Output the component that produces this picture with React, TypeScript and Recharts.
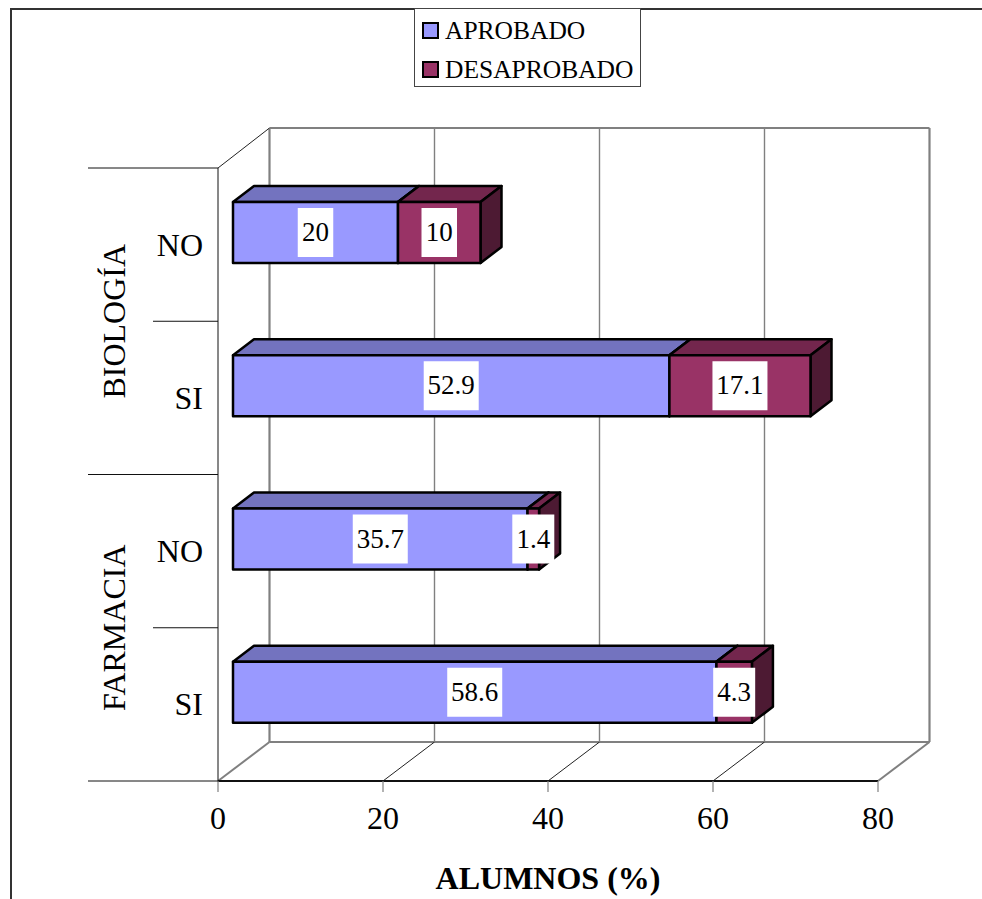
import React from "react";
import { BarChart, Bar, XAxis, YAxis, CartesianGrid, LabelList, Legend } from "recharts";

const categories = ["NO", "SI", "NO", "SI"];
const groups = ["BIOLOGÍA", "", "FARMACIA", ""];
const aprobado = [20, 52.9, 35.7, 58.6];
const desaprobado = [10, 17.1, 1.4, 4.3];
const xTicks = [0, 20, 40, 60, 80];
const seriesNames = ["APROBADO", "DESAPROBADO"];

const data = categories.map((c, i) => ({
  key: i,
  cat: c,
  group: groups[i],
  a: aprobado[i],
  d: desaprobado[i],
}));

const FONT = "'Liberation Serif','Times New Roman',serif";
const W = 982, H = 899;
const PLOT_L = 218, PLOT_R = 878, PLOT_T = 168, PLOT_B = 781;
const WALL_DX = 51.5, WALL_DY = 39;
const WALL_TOP = 128;
const BAR_DX = 15, BAR_DY = -12;
const BAR_DEPTH_X = 21, BAR_DEPTH_Y = 16;
const GREY = "#808080";

const makeShape = (front: string, top: string, side: string) => (p: any) => {
  const x = p.x + BAR_DX, y = p.y + BAR_DY, w = p.width, h = p.height;
  const dx = BAR_DEPTH_X, dy = BAR_DEPTH_Y;
  return (
    <g stroke="#000" strokeWidth={2.5} strokeLinejoin="round">
      <polygon fill={top} points={`${x},${y} ${x + dx},${y - dy} ${x + w + dx},${y - dy} ${x + w},${y}`} />
      <polygon fill={side} points={`${x + w},${y} ${x + w + dx},${y - dy} ${x + w + dx},${y + h - dy} ${x + w},${y + h}`} />
      <rect x={x} y={y} width={w} height={h} fill={front} />
    </g>
  );
};

const valueLabel = (p: any) => {
  const text = String(p.value);
  const tw = text.length === 2 && !text.includes(".") ? 26 : text.length === 3 ? 32.5 : 45.5;
  const cx = p.x + BAR_DX + p.width / 2;
  const cy = p.y + BAR_DY + p.height / 2;
  const bw = tw + 9.5;
  return (
    <g>
      <rect x={cx - bw / 2} y={cy - 24.5} width={bw} height={49} fill="#fff" />
      <text x={cx} y={cy + 8.5} textAnchor="middle" fontFamily={FONT} fontSize={27} fill="#000">{text}</text>
    </g>
  );
};

const gridLine = (p: any) => {
  const x = p.x1;
  const edge = x <= PLOT_L + 1 || x >= PLOT_R - 1;
  const first = x <= PLOT_L + 1;
  return (
    <g key={p.key} fill="none">
      <line x1={x} y1={PLOT_B} x2={x + WALL_DX} y2={PLOT_B - WALL_DY}
        stroke={edge ? GREY : "#222"} strokeWidth={edge ? 2 : 1} />
      <line x1={x + WALL_DX} y1={PLOT_B - WALL_DY} x2={x + WALL_DX} y2={WALL_TOP}
        stroke={GREY} strokeWidth={edge ? 2.2 : 1.4} />
      {first && (
        <g>
          <line x1={x} y1={PLOT_T} x2={x + WALL_DX} y2={WALL_TOP} stroke="#222" strokeWidth={1} />
          <line x1={x + WALL_DX} y1={WALL_TOP} x2={PLOT_R + WALL_DX} y2={WALL_TOP} stroke={GREY} strokeWidth={2.2} />
          <line x1={x + WALL_DX} y1={PLOT_B - WALL_DY} x2={PLOT_R + WALL_DX} y2={PLOT_B - WALL_DY} stroke={GREY} strokeWidth={2.2} />
        </g>
      )}
    </g>
  );
};

const catTick = (p: any) => {
  const i = p.index;
  const band = (PLOT_B - PLOT_T) / categories.length;
  const top = p.y - band / 2;
  const bottom = p.y + band / 2;
  const major = i % 2 === 0;
  const row = data[i];
  return (
    <g>
      <line x1={major ? 88 : 153} y1={top} x2={PLOT_L} y2={top} stroke="#111" strokeWidth={1} />
      {i === categories.length - 1 && <line x1={88} y1={bottom} x2={PLOT_L} y2={bottom} stroke="#111" strokeWidth={1} />}
      <text x={203} y={p.y + 11} textAnchor="end" fontFamily={FONT} fontSize={32} fill="#000">{row.cat}</text>
      {row.group && (
        <text transform={`translate(124.5,${bottom}) rotate(-90)`} textAnchor="middle" fontFamily={FONT} fontSize={32} fill="#000">{row.group}</text>
      )}
    </g>
  );
};

const valueTick = (p: any) => (
  <text x={p.x} y={829} textAnchor="middle" fontFamily={FONT} fontSize={32} fill="#000">{p.payload.value}</text>
);

const legendContent = (p: any) => (
  <div style={{ width: 227, height: 79, boxSizing: "border-box", border: "1.5px solid #444", background: "#fff", position: "relative", fontFamily: FONT, fontSize: 25.5, color: "#000" }}>
    {(p.payload || []).map((e: any, i: number) => (
      <div key={e.value} style={{ position: "absolute", left: 7, top: 7 + i * 39, height: 29, lineHeight: "29px", whiteSpace: "nowrap" }}>
        <span style={{ display: "inline-block", boxSizing: "border-box", width: 17, height: 17, background: e.color, border: "2.5px solid #000", marginRight: 6 }} />
        {e.value}
      </div>
    ))}
  </div>
);

export default function App() {
  return (
    <div style={{ position: "absolute", left: 0, top: 0, width: W, height: H, overflow: "hidden", background: "#fff" }}>
      <div style={{ position: "absolute", left: 10, top: 7.5, width: 1100, height: 1100, border: "2px solid #333" }} />
      <BarChart
        width={W}
        height={H}
        data={data}
        layout="vertical"
        barCategoryGap={0}
        barSize={61}
        margin={{ top: PLOT_T, right: W - PLOT_R, bottom: 0, left: 0 }}
        style={{ position: "absolute", left: 0, top: 0 }}
      >
        <CartesianGrid horizontal={false} vertical={gridLine} />
        <XAxis
          type="number"
          domain={[0, 80]}
          ticks={xTicks}
          interval={0}
          height={H - PLOT_B}
          tickSize={11}
          axisLine={{ stroke: "#111", strokeWidth: 2 }}
          tickLine={{ stroke: GREY, strokeWidth: 1.2 }}
          tick={valueTick}
          label={{ value: "ALUMNOS (%)", position: "insideBottom", offset: 10, fontFamily: FONT, fontSize: 32, fontWeight: 700, fill: "#000", dx: 0 }}
        />
        <YAxis
          type="category"
          dataKey="key"
          width={PLOT_L}
          tickLine={false}
          axisLine={{ stroke: "#111", strokeWidth: 1 }}
          tick={catTick}
          interval={0}
        />
        <Legend
          layout="horizontal"
          verticalAlign="middle"
          align="center"
          content={legendContent}
          wrapperStyle={{ left: 414, top: 8, width: 227, height: 79, margin: 0 }}
        />
        <Bar dataKey="a" name={seriesNames[0]} stackId="s" fill="#9999FF" isAnimationActive={false} shape={makeShape("#9999FF", "#7373BF", "#4D4D80")}>
          <LabelList dataKey="a" content={valueLabel} />
        </Bar>
        <Bar dataKey="d" name={seriesNames[1]} stackId="s" fill="#993366" isAnimationActive={false} shape={makeShape("#993366", "#73264D", "#4D1A33")}>
          <LabelList dataKey="d" content={valueLabel} />
        </Bar>
      </BarChart>
    </div>
  );
}
